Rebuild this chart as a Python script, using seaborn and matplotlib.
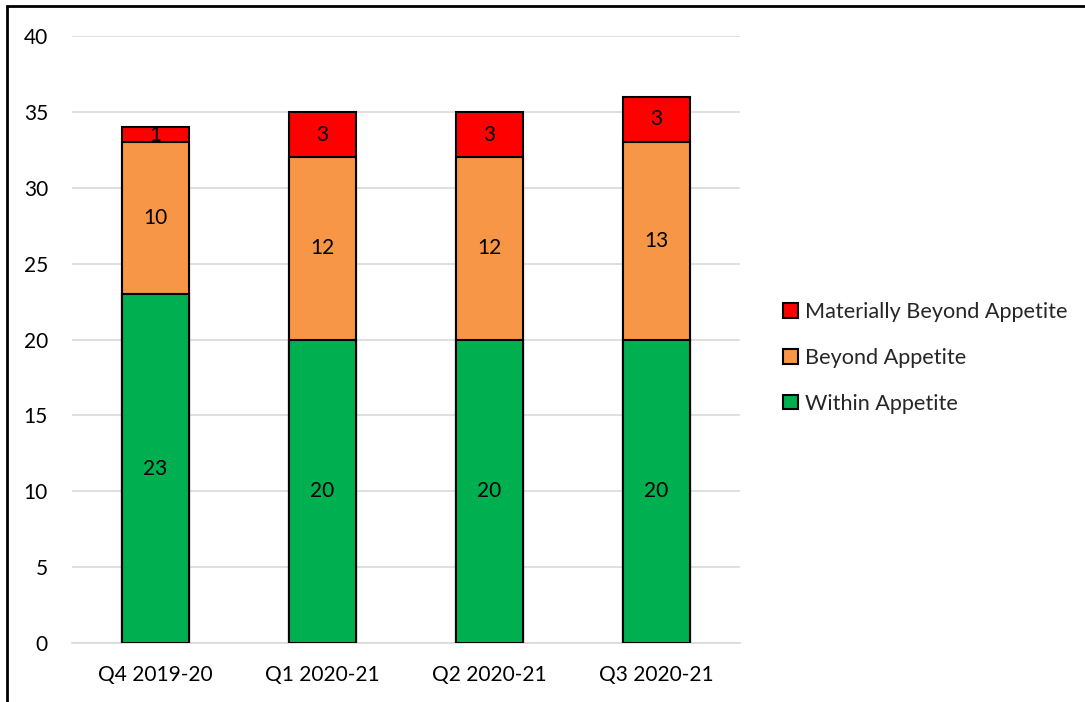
import matplotlib
matplotlib.use("Agg")
import matplotlib.pyplot as plt
import seaborn as sns
import pandas as pd
from matplotlib.patches import Rectangle, Patch

categories = ["Q4 2019-20", "Q1 2020-21", "Q2 2020-21", "Q3 2020-21"]
within = [23, 20, 20, 20]
beyond = [10, 12, 12, 13]
materially = [1, 3, 3, 3]
yticks = [0, 5, 10, 15, 20, 25, 30, 35, 40]

sns.set_theme(style="white")
plt.rcParams['font.family'] = ['Lato', 'DejaVu Sans']

fig = plt.figure(figsize=(10.85, 7.02), dpi=100)
ax = fig.add_axes([0.066, 0.084, 0.616, 0.8647])

c_green = "#00B050"
c_orange = "#F79646"
c_red = "#FF0000"

cum2 = [a + b for a, b in zip(within, beyond)]
cum3 = [a + b for a, b in zip(cum2, materially)]

df = pd.DataFrame({"cat": categories, "w": within, "c2": cum2, "c3": cum3})

sns.barplot(data=df, x="cat", y="c3", color=c_red, saturation=1, edgecolor="black",
            linewidth=1.5, width=0.4, ax=ax, zorder=3)
sns.barplot(data=df, x="cat", y="c2", color=c_orange, saturation=1, edgecolor="black",
            linewidth=1.5, width=0.4, ax=ax, zorder=3)
sns.barplot(data=df, x="cat", y="w", color=c_green, saturation=1, edgecolor="black",
            linewidth=1.5, width=0.4, ax=ax, zorder=3)

fs = 15
for i in range(len(categories)):
    ax.text(i, within[i] / 2, str(within[i]), ha="center", va="center", fontsize=fs, color="black", zorder=5)
    ax.text(i, within[i] + beyond[i] / 2, str(beyond[i]), ha="center", va="center", fontsize=fs, color="black", zorder=5)
    ax.text(i, cum2[i] + materially[i] / 2, str(materially[i]), ha="center", va="center", fontsize=fs, color="black", zorder=5)

ax.set_xlim(-0.5, 3.5)
ax.set_ylim(0, 40)
ax.set_yticks(yticks)
ax.set_yticklabels([str(t) for t in yticks])
ax.yaxis.grid(True, color="#d9d9d9", linewidth=1.2, zorder=0)
ax.set_axisbelow(True)
for s in ["top", "right", "left"]:
    ax.spines[s].set_visible(False)
ax.spines["bottom"].set_color("#d9d9d9")
ax.spines["bottom"].set_linewidth(1.2)
ax.tick_params(axis="both", length=0, labelsize=fs, colors="black")
ax.tick_params(axis="y", pad=17)
ax.tick_params(axis="x", pad=16)
ax.set_xlabel("")
ax.set_ylabel("")

handles = [Patch(facecolor=c_red, edgecolor="black", linewidth=1.5),
           Patch(facecolor=c_orange, edgecolor="black", linewidth=1.5),
           Patch(facecolor=c_green, edgecolor="black", linewidth=1.5)]
labels = ["Materially Beyond Appetite", "Beyond Appetite", "Within Appetite"]
fig.legend(handles, labels, loc="center left", bbox_to_anchor=(0.704, 0.490),
           frameon=False, fontsize=15.6, handlelength=0.68, handleheight=0.68,
           handletextpad=0.3, labelspacing=1.18)

fig.patches.append(Rectangle((7 / 1085, -0.1), 1.2, 1.1 - 6 / 702,
                             transform=fig.transFigure, fill=False,
                             edgecolor="black", linewidth=2, figure=fig))

fig.savefig("out.png", dpi=100)
